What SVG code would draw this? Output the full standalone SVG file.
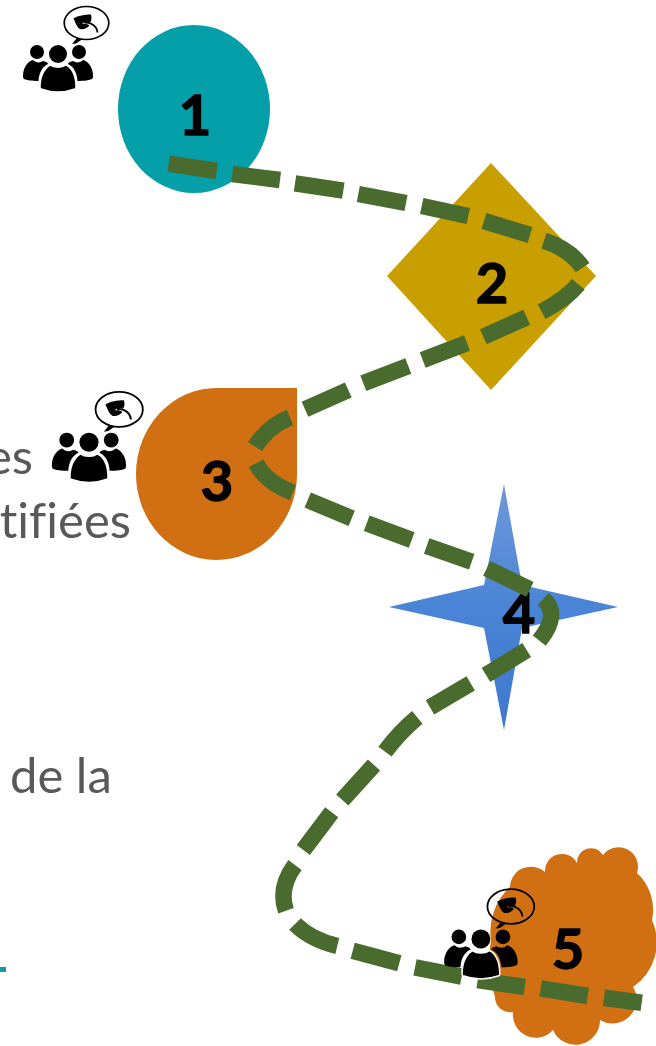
<svg xmlns="http://www.w3.org/2000/svg" width="656" height="1046" viewBox="0 0 656 1046">
<style>
.num{font-family:"Lato","Liberation Sans",sans-serif;font-weight:700;font-size:56px;fill:#000;stroke:#000;stroke-width:1.400;text-anchor:middle}
.txt{font-family:"Lato","Open Sans",sans-serif;font-size:49px;fill:#595959;font-variant-ligatures:none}
.or{fill:#d07012}
.road{fill:none;stroke:#4a6b2e;stroke-width:16.500}
</style>
<defs>
<linearGradient id="star" x1="0" y1="0" x2="0" y2="1"><stop offset="0" stop-color="#7099d8"/><stop offset=".5" stop-color="#4a84d6"/><stop offset="1" stop-color="#3f78cc"/></linearGradient>
<g id="people">
<ellipse cx="86.500" cy="23" rx="22.300" ry="16.500" fill="none" stroke="#000" stroke-width="1.700"/>
<path d="M77 38 L72 44 L76 43.500 L82 39.500Z" fill="#000"/>
<path d="M73.500 18.500 C78 15.500 85 14.500 91 14.500 C92 18 91.500 21 90 22.500 C87 21.500 84 22 82 24 C85 23.500 88 24 89.500 25.500 C87 28.500 83 30 80 29 C77 27.500 75.500 22.500 73.500 18.500Z" fill="#000"/>
<path d="M84.500 22.700 C91 22 97 26 97.500 32.500" fill="none" stroke="#000" stroke-width="1.800"/>
<circle cx="37" cy="52" r="7"/><circle cx="79" cy="52" r="7"/>
<path d="M23 76 C23 66 29 61 33 60 C36 63 40 63 43 61 C47 62 48 63 48 64 C42 67 39 73 38.500 81 C32 81 26 80 24 79 C23 78 23 77 23 76Z"/>
<path d="M93 76 C93 66 87 61 83 60 C80 63 76 63 73 61 C69 62 68 63 68 64 C74 67 77 73 77.500 81 C84 81 90 80 92 79 C93 78 93 77 93 76Z"/>
<circle cx="58" cy="54" r="9"/>
<path d="M40 87 C40 74 46 67 50 65 C54 68 62 68 66 65 C71 67 76 74 76 87 C76 88 76 88.500 75 89 C64 93 52 93 41 89 C40 88.500 40 88 40 87Z" stroke="#fff" stroke-width="1.500"/>
</g>
</defs>
<g id="marks">
<rect x="0" y="967" width="6" height="5" fill="#049fa8"/>
<text class="txt" x="33" y="474" text-anchor="end">es</text>
<text class="txt" x="131" y="538" text-anchor="end">tifiées</text>
<text class="txt" x="10" y="793">de la</text>
</g>
<g id="node1"><ellipse cx="194" cy="109" rx="76" ry="84" fill="#049fa8"/><text class="num" x="195" y="135">1</text></g>
<g id="node2"><path d="M491 163 L596 276 L491 390 L387 276Z" fill="#c99f00"/><text class="num" x="492" y="303">2</text></g>
<g id="node3"><path class="or" d="M297 388 V475 A80.500 86 0 1 1 217 388Z"/><text class="num" x="217" y="501">3</text></g>
<g id="node4"><path d="M504 484 L522 585 L618 607 L522 628 L504 730 L484 628 L389 607 L484 585Z" fill="url(#star)"/><text class="num" x="519" y="633">4</text></g>
<g id="node5"><path class="or" d="M545 872 A17 17 0 0 1 577 863 A14 14 0 0 1 603 855 A19.500 19.500 0 0 1 637 873 A50 50 0 0 1 652 920 A54 54 0 0 1 633 987 A24 24 0 0 1 600 1020 A24.500 24.500 0 0 1 553 1030 A23 23 0 0 1 513 1012 A15 15 0 0 1 495 997 A120 120 0 0 1 491 940 A60 60 0 0 1 510 887 A21 21 0 0 1 545 872Z"/><text class="num" x="568" y="969">5</text></g>
<g id="connectors">
<path class="road" d="M168.700 163.700 L216.700 171 M232.300 174 L280 180 M295 183.300 L343.300 190.700 M358.300 194 L406 203 M421.700 206 L468.300 216 M484 221 L530 235 M544 240.700 Q570 249.200 582.700 267.700 M578.300 284.300 Q566.600 298.600 541.700 311.700 M526.700 317.300 L483.300 336.700 M467 343 L422.700 360 M408.300 366 L363.300 383.300 M348.300 390 L305 409.300 M290 417.300 Q267.500 426.600 255 446.700 M256 463.300 Q265.700 482 292.700 492.700 M307.700 500 L351.700 518.300 M366.700 523.300 L411.700 540 M426.700 546 L471.700 561.700 M486.700 568.300 L530 589.300 M543.300 599 Q560.700 614 539.300 640.700 M526.700 650 L486 675 M470.700 683.300 L430 707.300 M417.300 717.300 Q399.500 732 385 751.700 M374 765 L342.300 800 M331.700 812.300 L303.300 850 M295 865 Q278 888 286 910.700 M295 924 Q310.600 939.600 337.300 946 M352.700 950.700 L399.300 963.300 M415 967.300 L461.700 976.700 M477.700 980 L524.700 987 M540.700 988.300 L587.700 996 M604 997.700 L641.700 1002.700"/>
</g>
<g id="crowd1"><use href="#people"/></g>
<g id="crowd3"><use href="#people" transform="translate(27.500 385) scale(1.060)"/></g>
<g id="crowd5"><use href="#people" transform="translate(420 882.300) scale(1.050)"/></g>
</svg>
